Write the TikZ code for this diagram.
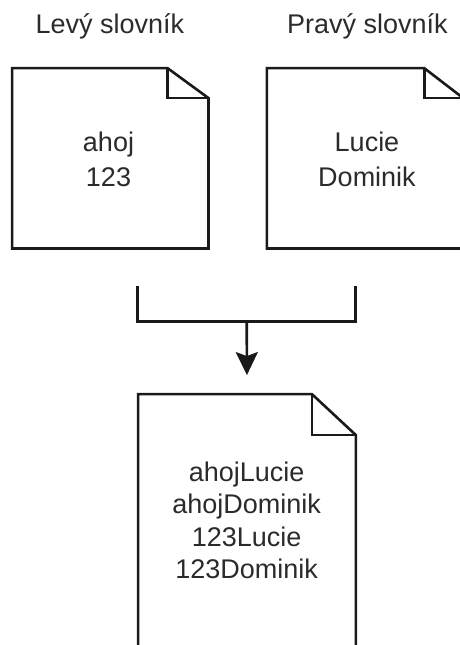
\documentclass[tikz,border=0pt]{standalone}
\usepackage{fontspec}
\setmainfont{Liberation Sans}
\usetikzlibrary{arrows.meta}
\definecolor{ink}{HTML}{1A1A1A}
\definecolor{txt}{HTML}{2B2B2B}
\begin{document}
\begin{tikzpicture}[x=1pt,y=-1pt,
  docbox/.style={draw=none,minimum width=#1,inner sep=0pt},
  outline/.style={draw=ink,line width=2.6pt,line join=miter,fill=white},
  title/.style={text=txt,font=\fontsize{27}{32}\selectfont,inner sep=0pt,anchor=base},
  content/.style={text=txt,inner sep=0pt,align=center,anchor=base},
  link/.style={draw=ink,line width=2.6pt,line join=miter}]
\useasboundingbox (0,0) rectangle (459,645);

% titles
\node[title] (tl) at (110,33.3) {Levý slovník};
\node[title] (tr) at (367.5,33.3) {Pravý slovník};

% left dictionary (text anchored at the baseline of its last line)
\node[docbox=196, minimum height=180] (L) at (110.3,158.3) {};
\draw[outline] (L.north west) -- ([xshift=-41]L.north east) -- ([yshift=-30]L.north east)
  -- (L.south east) -- (L.south west) -- cycle;
\draw[outline,fill=none] ([xshift=-41]L.north east) |- ([yshift=-30]L.north east);
\node[content,font=\fontsize{27}{35}\selectfont] (Lt) at (108.5,186.7) {ahoj\\123};

% right dictionary
\node[docbox=196, minimum height=180] (R) at (365,158.3) {};
\draw[outline] (R.north west) -- ([xshift=-39]R.north east) -- ([yshift=-30]R.north east)
  -- (R.south east) -- (R.south west) -- cycle;
\draw[outline,fill=none] ([xshift=-39]R.north east) |- ([yshift=-30]R.north east);
\node[content,font=\fontsize{27}{35}\selectfont] (Rt) at (367,186.7) {Lucie\\Dominik};

% result
\node[docbox=217.4, minimum height=300] (M) at (247,544.3) {};
\draw[outline] (M.north west) -- ([xshift=-44]M.north east) -- ([yshift=-41]M.north east)
  -- (M.south east) -- (M.south west) -- cycle;
\draw[outline,fill=none] ([xshift=-44]M.north east) |- ([yshift=-41]M.north east);
\node[content,font=\fontsize{27}{32.2}\selectfont] (Mt) at (246.7,578.3) {ahojLucie\\ahojDominik\\123Lucie\\123Dominik};

% merging bracket and arrow
\coordinate (b1) at (137.7,286);
\coordinate (b2) at (355.7,286);
\coordinate (bm) at (246.7,321.5);
\draw[link] (b1) |- (bm) -| (b2);
\draw[link,-{Stealth[length=23pt,width=22pt,inset=4pt]},shorten >=19pt] (bm) -- (M.north);
\end{tikzpicture}
\end{document}
